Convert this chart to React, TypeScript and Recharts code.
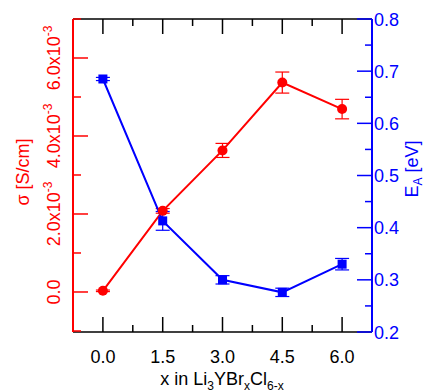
import { ComposedChart, ErrorBar, Line, XAxis, YAxis } from "recharts";

const xValues = [0, 1.5, 3.0, 4.5, 6.0];
const sigma = [0.00003, 0.00208, 0.00363, 0.00537, 0.00469];
const sigmaErr = [0.00002, 0.00006, 0.00018, 0.00027, 0.00025];
const activation = [0.685, 0.413, 0.3, 0.276, 0.33];
const activationErr = [0.003, 0.018, 0.008, 0.008, 0.011];

const xTicks = [0, 0.75, 1.5, 2.25, 3, 3.75, 4.5, 5.25, 6];
const xMajor = [0, 1.5, 3, 4.5, 6];
const sigmaTicks = [-0.001, 0, 0.001, 0.002, 0.003, 0.004, 0.005, 0.006, 0.007];
const sigmaMajor = [0, 0.002, 0.004, 0.006];
const eaTicks = [0.2, 0.25, 0.3, 0.35, 0.4, 0.45, 0.5, 0.55, 0.6, 0.65, 0.7, 0.75, 0.8];
const eaMajor = [0.2, 0.3, 0.4, 0.5, 0.6, 0.7, 0.8];

const data = xValues.map((x, i) => ({
  x,
  sigma: sigma[i],
  sigmaErr: sigmaErr[i],
  ea: activation[i],
  eaErr: activationErr[i],
}));

const RED = "#ff0000";
const BLUE = "#0000ff";
const FONT = "Arial, 'Liberation Sans', sans-serif";

const isIn = (list: number[], v: number) => list.some((m) => Math.abs(m - v) < 1e-9);

function BottomTick(props: any) {
  const { x, y, payload } = props;
  const major = isIn(xMajor, payload.value);
  return (
    <g>
      <line x1={x} x2={x} y1={y} y2={y - (major ? 15 : 7)} stroke="#000" strokeWidth={1.5} />
      {major && (
        <text x={x} y={y + 31} textAnchor="middle" fontSize={18} fontFamily={FONT} fill="#000">
          {payload.value.toFixed(1)}
        </text>
      )}
    </g>
  );
}

function TopTick(props: any) {
  const { x, y, payload } = props;
  const major = isIn(xMajor, payload.value);
  return <line x1={x} x2={x} y1={y} y2={y + (major ? 15 : 7)} stroke="#000" strokeWidth={1.5} />;
}

function LeftTick(props: any) {
  const { x, y, payload } = props;
  const v = payload.value;
  const major = isIn(sigmaMajor, v);
  const lx = 60;
  return (
    <g>
      <line x1={x} x2={x + (major ? 15 : 8)} y1={y} y2={y} stroke={RED} strokeWidth={1.5} />
      {major && (
        <text
          x={lx}
          y={y}
          transform={`rotate(-90, ${lx}, ${y})`}
          textAnchor="middle"
          fontSize={18}
          fontFamily={FONT}
          fill={RED}
        >
          {v === 0 ? (
            "0.0"
          ) : (
            <>
              {(v * 1000).toFixed(1)}x10
              <tspan dy={-8} fontSize={12}>
                -3
              </tspan>
            </>
          )}
        </text>
      )}
    </g>
  );
}

function RightTick(props: any) {
  const { x, y, payload } = props;
  const major = isIn(eaMajor, payload.value);
  return (
    <g>
      <line x1={x} x2={x - (major ? 15 : 7)} y1={y} y2={y} stroke={BLUE} strokeWidth={1.5} />
      {major && (
        <text x={x + 2} y={y + 6.5} textAnchor="start" fontSize={18} fontFamily={FONT} fill={BLUE}>
          {payload.value.toFixed(1)}
        </text>
      )}
    </g>
  );
}

const CircleDot = (props: any) => {
  const { cx, cy, index } = props;
  if (cx == null || cy == null) return <g key={index} />;
  return <circle key={index} cx={cx} cy={cy} r={5} fill={RED} />;
};

const SquareDot = (props: any) => {
  const { cx, cy, index } = props;
  if (cx == null || cy == null) return <g key={index} />;
  return <rect key={index} x={cx - 4.5} y={cy - 4.5} width={9} height={9} fill={BLUE} />;
};

export default function App() {
  return (
    <div style={{ position: "absolute", left: 0, top: 0 }}>
      <ComposedChart width={424} height={392} data={data} margin={{ top: 0, right: 0, bottom: 0, left: 0 }}>
        <XAxis
          xAxisId="bottom"
          dataKey="x"
          type="number"
          domain={[-0.75, 6.75]}
          ticks={xTicks}
          interval={0}
          height={60}
          tickSize={0}
          tickMargin={0}
          tick={BottomTick}
          axisLine={{ stroke: "#000", strokeWidth: 1.5 }}
          tickLine={false}
        />
        <XAxis
          xAxisId="top"
          orientation="top"
          dataKey="x"
          type="number"
          domain={[-0.75, 6.75]}
          ticks={xTicks}
          interval={0}
          height={19}
          tickSize={0}
          tickMargin={0}
          tick={TopTick}
          axisLine={{ stroke: "#000", strokeWidth: 1.5 }}
          tickLine={false}
        />
        <YAxis
          yAxisId="left"
          type="number"
          domain={[-0.001026, 0.007]}
          ticks={sigmaTicks}
          interval={0}
          width={73}
          tickSize={0}
          tickMargin={0}
          tick={LeftTick}
          axisLine={{ stroke: RED, strokeWidth: 2 }}
          tickLine={false}
          allowDataOverflow
        />
        <YAxis
          yAxisId="right"
          orientation="right"
          type="number"
          domain={[0.2, 0.8]}
          ticks={eaTicks}
          interval={0}
          width={52}
          tickSize={0}
          tickMargin={0}
          tick={RightTick}
          axisLine={{ stroke: BLUE, strokeWidth: 2 }}
          tickLine={false}
          allowDataOverflow
        />
        <Line
          xAxisId="bottom"
          yAxisId="left"
          dataKey="sigma"
          type="linear"
          stroke={RED}
          strokeWidth={2}
          dot={CircleDot}
          activeDot={false}
          isAnimationActive={false}
        >
          <ErrorBar dataKey="sigmaErr" direction="y" width={7} stroke={RED} strokeWidth={1.2} isAnimationActive={false} />
        </Line>
        <Line
          xAxisId="bottom"
          yAxisId="right"
          dataKey="ea"
          type="linear"
          stroke={BLUE}
          strokeWidth={2}
          dot={SquareDot}
          activeDot={false}
          isAnimationActive={false}
        >
          <ErrorBar dataKey="eaErr" direction="y" width={7} stroke={BLUE} strokeWidth={1.2} isAnimationActive={false} />
        </Line>
        <text x={222} y={385} textAnchor="middle" fontSize={18} fontFamily={FONT} fill="#000">
          x in Li
          <tspan dy={5} fontSize={12}>3</tspan>
          <tspan dy={-5}>YBr</tspan>
          <tspan dy={5} fontSize={12}>x</tspan>
          <tspan dy={-5}>Cl</tspan>
          <tspan dy={5} fontSize={12}>6-x</tspan>
        </text>
        <text
          x={29}
          y={172}
          transform="rotate(-90, 29, 172)"
          textAnchor="middle"
          fontSize={18}
          fontFamily={FONT}
          fill={RED}
        >
          σ [S/cm]
        </text>
        <text
          x={418}
          y={169}
          transform="rotate(-90, 418, 169)"
          textAnchor="middle"
          fontSize={18}
          fontFamily={FONT}
          fill={BLUE}
        >
          E<tspan dy={4} fontSize={12}>A</tspan>
          <tspan dy={-4}> [eV]</tspan>
        </text>
      </ComposedChart>
    </div>
  );
}
